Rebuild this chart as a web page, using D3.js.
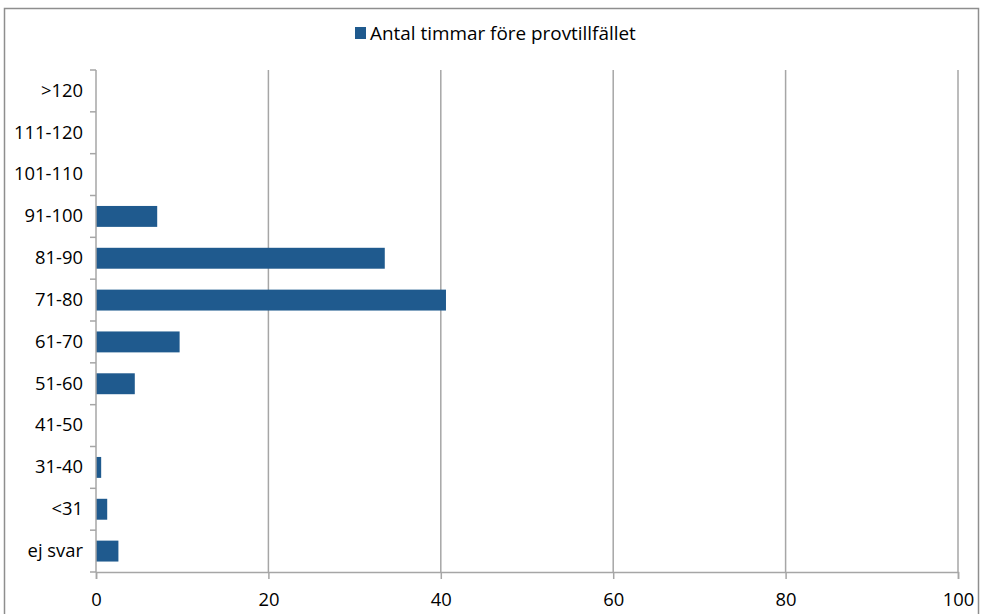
<!DOCTYPE html>
<html>
<head>
<meta charset="utf-8">
<script src="https://cdn.jsdelivr.net/npm/d3@7"></script>
<style>
  body { margin: 0; background: #fff; }
  svg text { font-family: 'Open Sans', sans-serif; fill: #000; }
</style>
</head>
<body>
<div id="chart"></div>
<script>
// data
var categories = ['ej svar', '<31', '31-40', '41-50', '51-60', '61-70', '71-80', '81-90', '91-100', '101-110', '111-120', '>120']
var values = [2.6, 1.3, 0.6, 0, 4.5, 9.7, 40.6, 33.5, 7.1, 0, 0, 0]
var xTicks = [0, 20, 40, 60, 80, 100]
var seriesName = 'Antal timmar före provtillfället'

var W = 984, H = 614
var margin = { top: 70, left: 96, right: 26, bottom: 42 }
var width = W - margin.left - margin.right
var height = H - margin.top - margin.bottom

var barColor = '#1f5a8e'
var gridColor = '#a6a6a6'

var svg = d3.select('#chart')
  .append('svg')
  .attr('width', W)
  .attr('height', H)

// outer frame
svg.append('rect')
  .attr('x', 4.5)
  .attr('y', 8.5)
  .attr('width', 974)
  .attr('height', 640)
  .attr('fill', 'none')
  .attr('stroke', '#8e8e8e')
  .attr('stroke-width', 1.5)

var g = svg.append('g')
  .attr('transform', 'translate(' + margin.left + ',' + margin.top + ')')

var xScale = d3.scaleLinear().domain([0, 100]).range([0, width])

// top category drawn first => reversed order
var yScale = d3.scaleBand()
  .domain(categories.slice().reverse())
  .range([0, height])
  .paddingInner(0.5)
  .paddingOuter(0.25)

// gridlines
g.selectAll('.grid')
  .data(xTicks.filter(d => d > 0))
  .enter()
  .append('line')
  .attr('class', 'grid')
  .attr('x1', d => xScale(d))
  .attr('x2', d => xScale(d))
  .attr('y1', 0)
  .attr('y2', height)
  .attr('stroke', gridColor)
  .attr('stroke-width', 1.5)

// bars
g.selectAll('.bar')
  .data(categories)
  .enter()
  .append('rect')
  .attr('class', 'bar')
  .attr('x', 0)
  .attr('y', d => yScale(d))
  .attr('height', yScale.bandwidth())
  .attr('width', (d, i) => xScale(values[i]))
  .attr('fill', barColor)

// y axis labels
var yAxis = d3.axisLeft(yScale).tickSize(0).tickPadding(13)
g.append('g')
  .attr('class', 'axis y-axis')
  .call(yAxis)
  .call(a => a.select('.domain').remove())
  .selectAll('text')
  .attr('font-size', 18.4)
  .attr('font-family', "'Open Sans', sans-serif")

// y axis line + boundary ticks
var half = yScale.step() * yScale.paddingInner() / 2
var bounds = yScale.domain().map(d => yScale(d) - half).concat([height])
g.append('line')
  .attr('x1', 0).attr('x2', 0)
  .attr('y1', 0).attr('y2', height)
  .attr('stroke', gridColor)
  .attr('stroke-width', 1.5)
g.selectAll('.ytick')
  .data(bounds)
  .enter()
  .append('line')
  .attr('class', 'ytick')
  .attr('x1', -6).attr('x2', 0)
  .attr('y1', d => d).attr('y2', d => d)
  .attr('stroke', gridColor)
  .attr('stroke-width', 1.5)

// x axis
var xAxis = d3.axisBottom(xScale).tickValues(xTicks).tickSize(7).tickPadding(14)
g.append('g')
  .attr('class', 'axis x-axis')
  .attr('transform', 'translate(0,' + height + ')')
  .call(xAxis)
  .call(a => a.selectAll('line, path').attr('stroke', gridColor).attr('stroke-width', 1.5))
  .selectAll('text')
  .attr('font-size', 18.4)
  .attr('font-family', "'Open Sans', sans-serif")

// legend
svg.append('rect')
  .attr('x', 355)
  .attr('y', 27)
  .attr('width', 11)
  .attr('height', 12)
  .attr('fill', barColor)
svg.append('text')
  .attr('x', 370)
  .attr('y', 33)
  .attr('dy', '0.35em')
  .attr('font-size', 18.9)
  .text(seriesName)
</script>
</body>
</html>
